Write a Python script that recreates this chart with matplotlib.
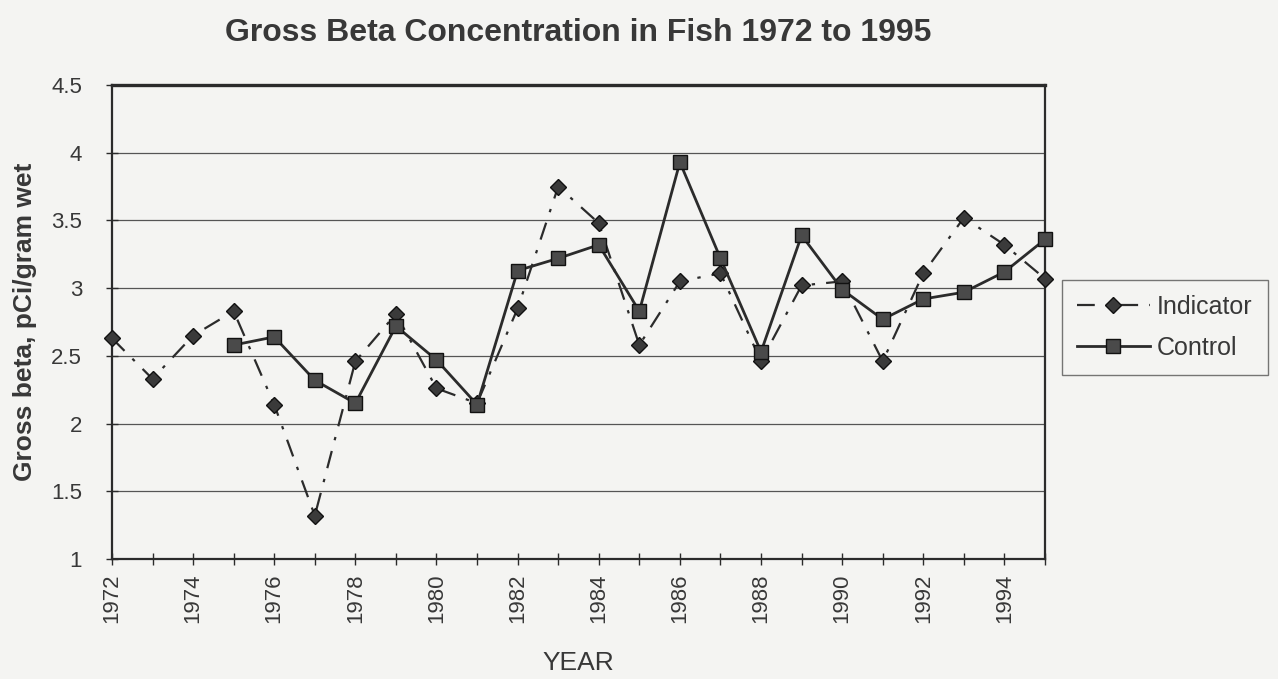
import numpy as np
import matplotlib
matplotlib.use("Agg")
import matplotlib.pyplot as plt

plt.rcParams['font.family'] = ['Liberation Sans', 'DejaVu Sans']

# gross beta, pCi/gram wet
years_ind = list(range(1972, 1996))
indicator = [2.63, 2.33, 2.65, 2.83, 2.14, 1.32, 2.46, 2.81, 2.26, 2.15, 2.85, 3.75,
             3.48, 2.58, 3.05, 3.11, 2.46, 3.02, 3.05, 2.46, 3.11, 3.52, 3.32, 3.07]
years_ctl = list(range(1975, 1996))
control = [2.58, 2.64, 2.32, 2.15, 2.72, 2.47, 2.14, 3.13, 3.22, 3.32, 2.83, 3.93,
           3.22, 2.53, 3.39, 2.99, 2.77, 2.92, 2.97, 3.12, 3.36]
year_labels = list(range(1972, 1996, 2))
y_ticks = [1, 1.5, 2, 2.5, 3, 3.5, 4, 4.5]

bg = '#f4f4f2'
ink = '#2b2b2b'
txt = '#383838'

fig = plt.figure(figsize=(12.78, 6.79), dpi=100, facecolor=bg)
ax = fig.add_axes([0.0876, 0.1767, 0.7301, 0.6981], facecolor=bg)

ax.plot(years_ind, indicator, linestyle=(0, (8, 5, 1.5, 5)), color=ink, lw=1.6,
        marker='D', markersize=8, markerfacecolor='#3a3a3a', markeredgecolor='#111111',
        label='Indicator', clip_on=False, zorder=3)
ax.plot(years_ctl, control, linestyle='-', color=ink, lw=2.0,
        marker='s', markersize=10, markerfacecolor='#4a4a4a', markeredgecolor='#111111',
        label='Control', clip_on=False, zorder=4)

ax.set_xlim(1972, 1995)
ax.set_ylim(1, 4.5)
ax.set_yticks(y_ticks)
ax.set_yticklabels(['%g' % v for v in y_ticks])
ax.set_xticks(year_labels)
ax.set_xticklabels([str(y) for y in year_labels], rotation=90)
ax.set_xticks(range(1972, 1996), minor=True)

ax.yaxis.grid(True, color='#555555', lw=0.9)
ax.set_axisbelow(True)

for side in ['left', 'right', 'bottom']:
    ax.spines[side].set_color(ink)
    ax.spines[side].set_linewidth(1.6)
ax.spines['top'].set_color(ink)
ax.spines['top'].set_linewidth(2.4)

ax.tick_params(axis='both', which='both', direction='inout', color=ink, width=1.0,
               labelsize=16, labelcolor=txt)
ax.tick_params(axis='x', which='both', length=9, pad=6)
ax.tick_params(axis='y', length=9, pad=17)

ax.set_title('Gross Beta Concentration in Fish 1972 to 1995', fontsize=23,
             fontweight='bold', color=txt, pad=32)
ax.set_ylabel('Gross beta, pCi/gram wet', fontsize=19, fontweight='bold',
              color=txt, labelpad=10)
ax.set_xlabel('YEAR', fontsize=19, color=txt, labelpad=20)

leg = fig.legend(loc='upper left', bbox_to_anchor=(0.831, 0.588), borderaxespad=0,
                 fontsize=18, frameon=True, fancybox=False, edgecolor='#555555',
                 facecolor=bg, handlelength=2.9, borderpad=0.6, labelspacing=0.7,
                 handletextpad=0.3)
leg.get_frame().set_linewidth(1.0)
for t in leg.get_texts():
    t.set_color(txt)

fig.savefig('out.png', dpi=100, facecolor=bg)
